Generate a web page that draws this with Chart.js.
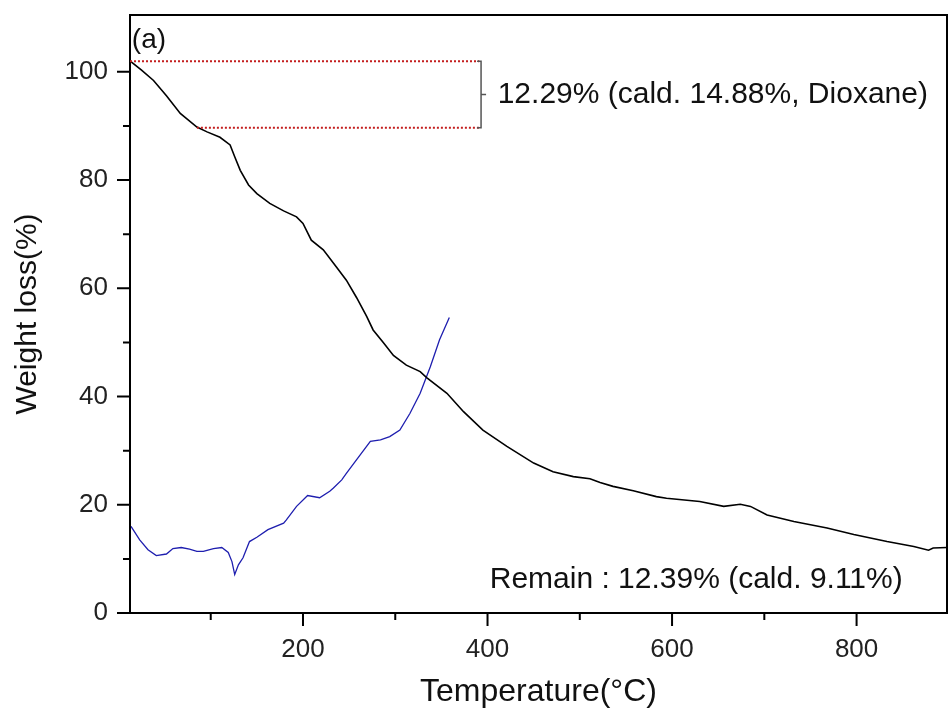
<!DOCTYPE html>
<html>
<head>
<meta charset="utf-8">
<script src="https://cdn.jsdelivr.net/npm/chart.js@4/dist/chart.umd.min.js"></script>
<style>
  body { margin: 0; background: #fff; }
  canvas { display: block; }
</style>
</head>
<body>
<canvas id="tga" width="948" height="715"></canvas>
<script>
// TGA weight curve (black), temperature in °C / weight in %
const tgaTemp = [12.5, 25, 38, 52, 67, 85, 96, 110, 121, 126, 132, 141, 150, 164, 179, 193, 200, 209, 222, 236, 247, 258, 269, 276, 287, 298, 312, 327, 334, 356, 374, 395, 421, 450, 471, 493, 511, 522, 536, 558, 583, 594, 630, 656, 674, 685, 703, 732, 768, 797, 833, 862, 878, 883, 898];
const tgaWeight = [102, 100.3, 98.4, 95.6, 92.3, 89.8, 88.9, 87.9, 86.5, 84.3, 81.8, 79.1, 77.5, 75.7, 74.3, 73.2, 72, 68.9, 67.1, 64, 61.5, 58.3, 54.8, 52.3, 50, 47.6, 45.8, 44.6, 43.5, 40.6, 37.2, 33.8, 30.8, 27.7, 26.1, 25.2, 24.8, 24.1, 23.4, 22.6, 21.5, 21.2, 20.6, 19.7, 20.1, 19.7, 18.1, 16.9, 15.7, 14.5, 13.2, 12.3, 11.6, 12, 12.1];

// derivative / DTA trace (blue)
const dtaTemp = [13.6, 23, 32, 41, 52, 59, 68, 77, 85, 92, 103, 112, 119, 123, 126, 130, 135, 142, 150, 162, 179, 182, 193, 205, 218, 229, 233, 242, 247, 262, 273, 284, 294, 305, 316, 327, 338, 348, 358.6];
const dtaValue = [16, 13.5, 11.7, 10.6, 10.9, 11.9, 12.1, 11.8, 11.4, 11.4, 11.9, 12.1, 11.2, 9.5, 7.1, 8.9, 10.2, 13.2, 14, 15.4, 16.6, 17.2, 19.7, 21.7, 21.3, 22.5, 23.1, 24.6, 25.8, 29.2, 31.7, 32, 32.6, 33.8, 36.9, 40.6, 45.5, 50.5, 54.6];

const xMajor = [200, 400, 600, 800];
const xMinor = [100, 300, 500, 700];
const yMajor = [0, 20, 40, 60, 80, 100];
const yMinor = [10, 30, 50, 70, 90];

// first weight-loss step (dioxane)
const lossTop = 101.96;
const lossBottom = 89.67;
const lossTopStart = 12.5;
const lossBottomStart = 85;
const lossEnd = 391;
const bracketAt = 393;
const lossLabel = '12.29% (cald. 14.88%, Dioxane)';
const remainLabel = 'Remain : 12.39% (cald. 9.11%)';
const panelLabel = '(a)';

const pts = (xs, ys) => xs.map((t, i) => ({ x: t, y: ys[i] }));
const FONT = '"Liberation Sans", Arial, sans-serif';

const annot = {
  id: 'annot',
  afterDraw(chart) {
    const { ctx, chartArea: a, scales: { x, y } } = chart;
    ctx.save();

    // frame
    ctx.strokeStyle = '#000';
    ctx.lineWidth = 2;
    ctx.strokeRect(a.left, a.top, a.right - a.left, a.bottom - a.top);

    // tick marks, outside
    ctx.beginPath();
    xMajor.concat(xMinor).forEach(v => {
      const px = x.getPixelForValue(v);
      const len = xMajor.includes(v) ? 13 : 7;
      ctx.moveTo(px, a.bottom);
      ctx.lineTo(px, a.bottom + len);
    });
    yMajor.concat(yMinor).forEach(v => {
      const py = y.getPixelForValue(v);
      const len = yMajor.includes(v) ? 13 : 7;
      ctx.moveTo(a.left, py);
      ctx.lineTo(a.left - len, py);
    });
    ctx.stroke();

    // dotted guide lines
    ctx.strokeStyle = 'rgb(195,30,30)';
    ctx.lineWidth = 2;
    ctx.setLineDash([2, 2]);
    ctx.beginPath();
    ctx.moveTo(x.getPixelForValue(lossTopStart), y.getPixelForValue(lossTop));
    ctx.lineTo(x.getPixelForValue(lossEnd), y.getPixelForValue(lossTop));
    ctx.moveTo(x.getPixelForValue(lossBottomStart), y.getPixelForValue(lossBottom));
    ctx.lineTo(x.getPixelForValue(lossEnd), y.getPixelForValue(lossBottom));
    ctx.stroke();
    ctx.setLineDash([]);

    // bracket
    const bx = x.getPixelForValue(bracketAt);
    const by1 = y.getPixelForValue(lossTop);
    const by2 = y.getPixelForValue(lossBottom);
    ctx.strokeStyle = '#555';
    ctx.lineWidth = 1.5;
    ctx.beginPath();
    ctx.moveTo(bx - 4, by1);
    ctx.lineTo(bx, by1);
    ctx.lineTo(bx, by2);
    ctx.lineTo(bx - 4, by2);
    ctx.moveTo(bx, (by1 + by2) / 2);
    ctx.lineTo(bx + 5, (by1 + by2) / 2);
    ctx.stroke();

    // texts
    ctx.fillStyle = '#111';
    ctx.textBaseline = 'middle';
    ctx.font = '30px ' + FONT;
    ctx.textAlign = 'left';
    ctx.fillText(lossLabel, x.getPixelForValue(411), y.getPixelForValue((lossTop + lossBottom) / 2));
    ctx.textAlign = 'right';
    ctx.fillText(remainLabel, x.getPixelForValue(850), y.getPixelForValue(6.1));
    ctx.textAlign = 'left';
    ctx.font = '28px ' + FONT;
    ctx.fillText(panelLabel, x.getPixelForValue(14.5), y.getPixelForValue(105.8));
    ctx.restore();
  }
};

new Chart(document.getElementById('tga'), {
  type: 'scatter',
  data: {
    datasets: [{
      label: 'TGA',
      data: pts(tgaTemp, tgaWeight),
      showLine: true,
      borderColor: '#000',
      borderWidth: 1.6,
      pointRadius: 0,
      tension: 0
    }, {
      label: 'DTA',
      data: pts(dtaTemp, dtaValue),
      showLine: true,
      borderColor: 'rgb(30,30,175)',
      borderWidth: 1.3,
      pointRadius: 0,
      tension: 0
    }]
  },
  options: {
    responsive: false,
    animation: false,
    layout: { padding: { top: 15, right: 1, left: 0, bottom: 0 } },
    plugins: { legend: { display: false }, tooltip: { enabled: false } },
    scales: {
      x: {
        type: 'linear',
        min: 12.5,
        max: 898,
        border: { display: false },
        grid: { display: false, drawTicks: false },
        afterBuildTicks: s => { s.ticks = xMajor.concat(xMinor).sort((a, b) => a - b).map(v => ({ value: v })); },
        ticks: {
          padding: 21,
          maxRotation: 0,
          autoSkip: false,
          color: '#222',
          font: { family: FONT, size: 26 },
          callback: v => xMajor.includes(v) ? String(v) : ''
        },
        title: {
          display: true,
          text: 'Temperature(\u00B0C)',
          color: '#111',
          font: { family: FONT, size: 32 },
          padding: { top: 0, bottom: 4 }
        },
        afterFit: s => { s.height = 102; s.paddingLeft = 0; s.paddingRight = 0; }
      },
      y: {
        min: 0,
        max: 110.5,
        border: { display: false },
        grid: { display: false, drawTicks: false },
        afterBuildTicks: s => { s.ticks = yMajor.concat(yMinor).sort((a, b) => a - b).map(v => ({ value: v })); },
        ticks: {
          padding: 22,
          autoSkip: false,
          color: '#222',
          font: { family: FONT, size: 26 },
          callback: v => yMajor.includes(v) ? String(v) : ''
        },
        title: {
          display: true,
          text: 'Weight loss(%)',
          color: '#111',
          font: { family: FONT, size: 30 },
          padding: { top: 10, bottom: 10 }
        },
        afterFit: s => { s.width = 130; s.paddingTop = 0; s.paddingBottom = 0; }
      }
    }
  },
  plugins: [annot]
});
</script>
</body>
</html>
